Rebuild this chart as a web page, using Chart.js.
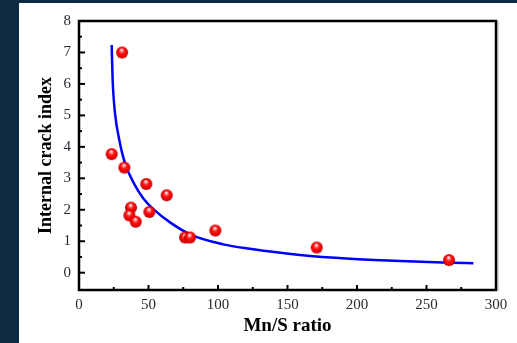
<!DOCTYPE html>
<html>
<head>
<meta charset="utf-8">
<script src="https://cdn.jsdelivr.net/npm/chart.js@4.4.0/dist/chart.umd.min.js"></script>
<style>
  html, body { margin: 0; padding: 0; background: #0f2a3f; width: 517px; height: 343px; overflow: hidden; }
  #wrap { position: absolute; left: 19px; top: 3px; width: 498px; height: 340px; background: #fff; }
</style>
</head>
<body>
<div id="wrap"><canvas id="myChart" width="498" height="340"></canvas></div>
<script>
// measured samples (red spheres)
const mnsRatio   = [31, 23.5, 32.6, 48.4, 63.1, 37.4, 36.2, 50.6, 40.8, 76.3, 79.9, 98.1, 171, 266.2];
const crackIndex = [7.0, 3.77, 3.34, 2.82, 2.46, 2.07, 1.82, 1.93, 1.62, 1.12, 1.12, 1.34, 0.80, 0.40];

// fitted curve (blue line)
const fitX = [23.5, 24.2, 25.9, 29.0, 33.1, 40.0, 46.3, 53.5, 65.5, 79.9, 103.8, 123, 159, 195, 231, 267, 283.7];
const fitY = [7.24, 6.13, 5.07, 4.22, 3.48, 2.80, 2.36, 2.02, 1.60, 1.22, 0.90, 0.76, 0.56, 0.44, 0.37, 0.32, 0.30];

const xTicks = [0, 50, 100, 150, 200, 250, 300];
const yTicks = [0, 1, 2, 3, 4, 5, 6, 7, 8];

// shiny red ball used as point style
function makeBall(r) {
  const c = document.createElement('canvas');
  c.width = c.height = r * 2 + 2;
  const g = c.getContext('2d');
  const cx = r + 1, cy = r + 1;
  const grad = g.createRadialGradient(cx - 0.5, cy - r * 0.45, 0.5, cx, cy, r);
  grad.addColorStop(0, '#ffffff');
  grad.addColorStop(0.18, '#ff8080');
  grad.addColorStop(0.45, '#ff1010');
  grad.addColorStop(0.85, '#e00000');
  grad.addColorStop(1, '#b00000');
  g.fillStyle = grad;
  g.beginPath();
  g.arc(cx, cy, r, 0, Math.PI * 2);
  g.fill();
  return c;
}
const ball = makeBall(6);

const frameAndTicks = {
  id: 'frameAndTicks',
  afterDatasetsDraw(chart) {
    const {ctx, chartArea: a, scales: {x, y}} = chart;
    const seg = (x1, y1, x2, y2) => { ctx.beginPath(); ctx.moveTo(x1, y1); ctx.lineTo(x2, y2); ctx.stroke(); };
    ctx.save();
    // little shadow on the right side of the frame
    ctx.strokeStyle = '#c8c8c8';
    ctx.lineWidth = 1.5;
    seg(a.right + 2, a.top, a.right + 2, a.bottom + 1);
    ctx.strokeStyle = '#000';
    ctx.lineWidth = 2;
    xTicks.forEach((v, i) => {
      const px = x.getPixelForValue(v);
      seg(px, a.bottom, px, a.bottom - 5);
      if (i < xTicks.length - 1) {
        const m = x.getPixelForValue((v + xTicks[i + 1]) / 2);
        seg(m, a.bottom, m, a.bottom - 3);
      }
    });
    yTicks.forEach((v, i) => {
      const py = y.getPixelForValue(v);
      seg(a.left, py, a.left + 6, py);
      if (i < yTicks.length - 1) {
        const m = y.getPixelForValue((v + yTicks[i + 1]) / 2);
        seg(a.left, m, a.left + 3, m);
      }
    });
    ctx.lineWidth = 2.5;
    ctx.strokeRect(a.left, a.top, a.right - a.left, a.bottom - a.top);
    ctx.restore();
  }
};

const ctx = document.getElementById('myChart');
new Chart(ctx, {
  type: 'scatter',
  data: {
    datasets: [
      {
        data: mnsRatio.map((v, i) => ({x: v, y: crackIndex[i]})),
        pointStyle: ball,
        pointRadius: 6,
        pointHoverRadius: 6
      },
      {
        type: 'line',
        data: fitX.map((v, i) => ({x: v, y: fitY[i]})),
        borderColor: '#0000ff',
        borderWidth: 2.5,
        pointRadius: 0,
        cubicInterpolationMode: 'monotone',
        fill: false
      }
    ]
  },
  options: {
    responsive: false,
    animation: false,
    devicePixelRatio: 1,
    layout: { padding: { top: 18, right: 21, left: 0, bottom: 0 } },
    plugins: {
      legend: { display: false },
      tooltip: { enabled: false }
    },
    scales: {
      x: {
        type: 'linear',
        min: 0,
        max: 300,
        afterBuildTicks: s => { s.ticks = xTicks.map(v => ({value: v})); },
        afterFit: s => { s.height = 53; },
        grid: { display: false, drawTicks: false },
        border: { display: false },
        ticks: {
          padding: 6,
          color: '#2a2a35',
          font: { family: 'Liberation Serif', size: 15 }
        },
        title: {
          display: true,
          text: 'Mn/S ratio',
          color: '#000',
          padding: { top: 0, bottom: 6 },
          font: { family: 'Liberation Serif', size: 19, weight: 'bold' }
        }
      },
      y: {
        type: 'linear',
        min: -0.55,
        max: 8,
        afterBuildTicks: s => { s.ticks = yTicks.map(v => ({value: v})); },
        afterFit: s => { s.width = 60; },
        grid: { display: false, drawTicks: false },
        border: { display: false },
        ticks: {
          padding: 8,
          color: '#2a2a35',
          font: { family: 'Liberation Serif', size: 15 }
        },
        title: {
          display: true,
          text: 'Internal crack index',
          color: '#000',
          padding: { top: 17, bottom: 0 },
          font: { family: 'Liberation Serif', size: 18, weight: 'bold' }
        }
      }
    }
  },
  plugins: [frameAndTicks]
});
</script>
</body>
</html>
